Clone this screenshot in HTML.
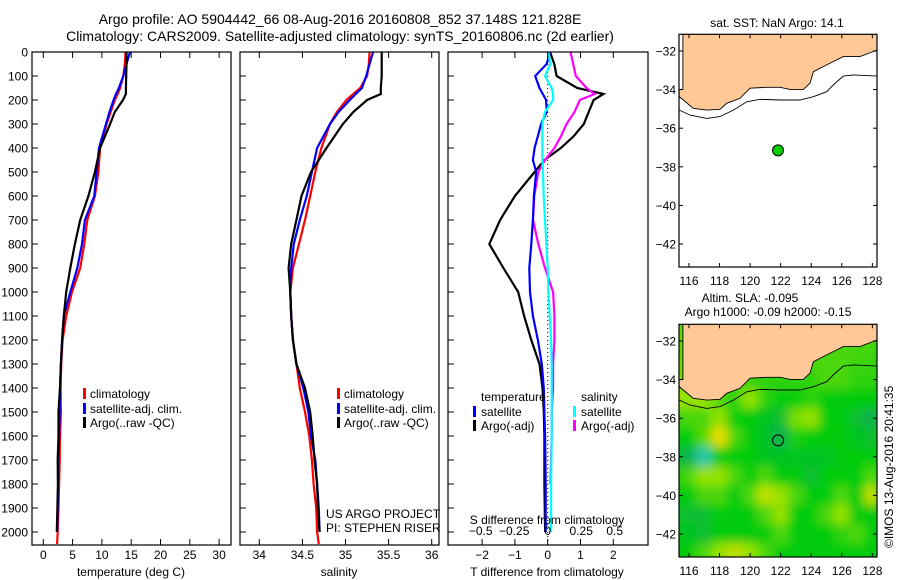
<!DOCTYPE html>
<html><head><meta charset="utf-8">
<style>
html,body{margin:0;padding:0;background:#fff;}
svg{display:block;font-family:"Liberation Sans",sans-serif;}
text{fill:#000;}
</style></head>
<body>
<svg id="fig" width="900" height="580" viewBox="0 0 900 580" xmlns="http://www.w3.org/2000/svg">
<text x="340" y="24" font-size="14" text-anchor="middle">Argo profile: AO 5904442_66 08-Aug-2016 20160808_852 37.148S 121.828E</text>
<text x="340" y="41" font-size="14" text-anchor="middle">Climatology: CARS2009. Satellite-adjusted climatology: synTS_20160806.nc (2d earlier)</text>
<g id="p1"></g>
<g id="p2"></g>
<g id="p3"></g>
<g id="m1"></g>
<g id="m2"></g>
<text x="0" y="0" font-size="12" transform="translate(893,548) rotate(-90)">©IMOS 13-Aug-2016 20:41:35</text>
</svg>
<script>
// ---- data ----
const depthsP = [0,50,100,150,175,200,250,300,400,500,600,700,800,900,1000,1100,1200,1300,1400,1500,1600,1700,1800,1900,2000,2050];
const tempClim = [14.05,13.9,13.65,13.1,12.7,12.2,11.5,10.8,9.7,9.4,8.8,7.5,7.0,6.3,4.9,3.9,3.3,3.05,2.95,3.0,2.85,2.8,2.7,2.6,2.45,2.35];
const tempSat  = [14.8,14.2,13.65,12.9,12.4,12.0,11.3,10.7,9.5,9.1,8.7,7.1,6.6,5.8,4.6,3.5,3.2,3.0,2.85,2.8,2.7,2.6,2.55,2.45,2.35,null];
const tempArgo = [14.2,14.2,14.15,14.1,14.1,13.6,12.2,11.4,9.7,8.8,7.7,6.3,5.4,4.6,3.9,3.5,3.2,3.0,2.85,2.6,2.6,2.45,2.5,2.4,2.3,null];
const salClim = [35.28,35.27,35.25,35.17,35.09,35.01,34.9,34.82,34.72,34.65,34.59,34.53,34.46,34.39,34.36,34.37,34.39,34.43,34.47,34.53,34.58,34.61,34.63,34.66,34.67,34.69];
const salSat  = [35.32,35.28,35.24,35.19,35.12,35.05,34.92,34.82,34.67,34.61,34.55,34.47,34.40,34.37,34.36,34.37,34.39,34.43,34.51,34.57,34.60,34.65,34.67,34.69,34.70,null];
const salArgo = [35.42,35.42,35.42,35.41,35.41,35.25,35.09,34.97,34.78,34.6,34.49,34.43,34.37,34.34,34.36,34.37,34.39,34.43,34.53,34.59,34.62,34.64,34.67,34.68,34.70,null];
const depthsD = [0,50,100,150,175,200,250,300,350,400,450,500,600,700,800,900,1000,1100,1200,1300,1400,1500,1600,1800,2000];
const dTsat  = [0.07,-0.03,-0.38,-0.25,-0.15,-0.05,-0.03,-0.2,-0.3,-0.4,-0.45,-0.35,-0.42,-0.45,-0.5,-0.56,-0.54,-0.45,-0.3,-0.18,-0.12,-0.1,-0.08,-0.06,-0.06];
const dTargo = [0.07,0.2,0.27,0.9,1.7,1.4,1.25,1.1,0.8,0.4,-0.1,-0.4,-1.0,-1.45,-1.78,-1.35,-0.9,-0.72,-0.5,-0.25,-0.16,-0.12,-0.1,-0.1,-0.08];
const dSsat  = [0.005,0.02,-0.02,0.03,0.04,0.04,-0.02,-0.04,-0.04,-0.04,-0.04,-0.035,-0.03,-0.02,-0.01,0,0.005,0.015,0.025,0.03,0.03,0.03,0.03,0.025,0.025];
const dSargo = [0.17,0.19,0.21,0.29,0.35,0.24,0.2,0.14,0.1,0.05,-0.02,-0.07,-0.1,-0.11,-0.07,-0.02,0.04,0.05,0.05,0.04,0.04,0.03,0.03,0.02,null];
const depthTicks = [0,100,200,300,400,500,600,700,800,900,1000,1100,1200,1300,1400,1500,1600,1700,1800,1900,2000];
const tempTicks = [0,5,10,15,20,25,30];
const salTicks = [34,34.5,35,35.5,36];
const salTickLabels = ["34","34.5","35","35.5","36"];
const dTTicks = [-2,-1,0,1,2];
const dSTicks = [-0.5,-0.25,0,0.25,0.5];
const dSTickLabels = ["\u22120.5","\u22120.25","0","0.25","0.5"];
const lonTicks = [116,118,120,122,124,126,128];
const latTicks = [-32,-34,-36,-38,-40,-42];
const argoLon = 121.828, argoLat = -37.148;
const coastLon = [115.35,115.37,115.63,116.28,117.16,118.03,118.47,119.34,120.0,121.08,121.96,122.61,123.48,123.92,124.14,124.79,125.44,126.1,127.19,128.32,128.32,115.6,115.6,115.35];
const coastLat = [-34.3,-34.37,-34.54,-34.97,-35.06,-35.02,-34.71,-34.45,-33.93,-33.88,-33.88,-33.99,-33.99,-33.67,-33.07,-32.81,-32.55,-32.29,-32.29,-31.95,-31.0,-31.0,-34.0,-34.0];
const isoLon = [115.37,116.07,117.16,118.03,118.9,119.78,120.65,121.96,123.26,124.14,125.01,125.44,126.1,126.75,128.32];
const isoLat = [-35.06,-35.32,-35.49,-35.40,-35.06,-34.63,-34.5,-34.54,-34.54,-34.37,-34.11,-33.76,-33.30,-33.24,-33.30];
const slaLons = [115,116,117,118,119,120,121,122,123,124,125,126,127,128];
const slaLats = [-31,-32,-33,-34,-35,-36,-37,-38,-39,-40,-41,-42,-43];
const slaGrid = [
[0.5,0.5,0.5,0.5,0.5,0.5,0.5,0.5,0.5,0.5,0.5,0.5,0.5,0.5],
[0.8,0.5,0.5,0.5,0.5,0.5,0.5,0.5,0.5,0.5,0.5,0.5,0.5,0.5],
[0.8,0.5,0.5,0.5,0.5,0.5,0.5,0.5,0.5,0.5,0.5,0.5,0.4,0.4],
[1,0.5,0.3,0.3,0.3,0.3,0.3,0.3,0.3,0.3,0.5,0.5,0.3,0.3],
[1,1,1,0.5,0.3,1,0.3,0,0,0.3,0,0,0,0],
[0.3,0.5,0.5,1,0,0,-0.3,-0.5,0.8,1,0,0,-0.5,-1],
[0,0,0.6,2,0.5,0,-0.3,-1,0.2,0,0,0,-0.3,-0.5],
[0,-1,-2,0,0,0,-0.3,-0.3,-0.3,-0.3,-0.3,0,0,0],
[0,0.5,1,1,0.5,0,0.5,0,0,-0.5,0,0,0,0.5],
[0,0,0.5,0.5,0,0.5,1.5,1,0.5,0,0,0.5,0,1.5],
[-0.3,-0.5,-0.5,0,0,0,0.5,1,0,0,0.5,1,0,0],
[0,-0.3,-0.5,0,0,0,0,0.5,0,0,0,0.3,0.5,0],
[0,0,0.5,1,1.5,1,0.5,0,0,0,0,0,0,0]];

// ---- helpers ----
const NS="http://www.w3.org/2000/svg";
function mk(tag,attrs,parent){const e=document.createElementNS(NS,tag);for(const k in attrs)e.setAttribute(k,attrs[k]);parent.appendChild(e);return e;}
const TOP=52, BOT=545, DPX=0.24;
const yD = d => TOP + d*DPX;

function linePath(xs,ds,fx){let s="",pen=false;for(let i=0;i<xs.length;i++){if(xs[i]===null){pen=false;continue;}s+=(pen?"L":"M")+fx(xs[i]).toFixed(1)+","+yD(ds[i]).toFixed(1);pen=true;}return s;}

function frame(g,x0,x1,labelsLeft){
  const r=mk('rect',{x:x0,y:TOP,width:x1-x0,height:BOT-TOP,fill:'none',stroke:'#000','stroke-width':1.2},g);
  
  depthTicks.forEach(d=>{
    const t=mk('line',{x1:x0,x2:x0+6,y1:yD(d),y2:yD(d),stroke:'#000'},g);
    
    if(labelsLeft){const tx=mk('text',{x:x0-4,y:yD(d)+4.5,'font-size':12,'text-anchor':'end'},g);tx.textContent=d;
      }
  });
}
function xticks(g,vals,fx,labels,ly,inside){
  vals.forEach((v,i)=>{
    const x=fx(v);
    const a=mk('line',{x1:x,x2:x,y1:TOP,y2:TOP+6,stroke:'#000'},g);
    
    const b=mk('line',{x1:x,x2:x,y1:BOT,y2:BOT-6,stroke:'#000'},g);
    
    if(labels){const t=mk('text',{x:x,y:ly,'font-size':12,'text-anchor':'middle'},g);t.textContent=labels[i];
      }
  });
}
function series(g,xs,ds,fx,color,name){
  const p=mk('path',{d:linePath(xs,ds,fx),fill:'none',stroke:color,'stroke-width':2.2,'stroke-linejoin':'miter'},g);
  
}
function txt(g,x,y,s,name,anchor,size){const t=mk('text',{x:x,y:y,'font-size':size||12,'text-anchor':anchor||'start'},g);t.textContent=s;
  return t;}
function legendMark(g,x,y,color,name){const l=mk('rect',{x:x,y:y-10,width:3,height:11,fill:color},g);
  }

// ---- panel 1 ----
const p1=document.getElementById('p1');
const fT=v=>43.3+v*5.86;
series(p1,tempClim,depthsP,fT,'#ff0000','climatology-temp-line');
series(p1,tempSat,depthsP,fT,'#0000ff','satellite-temp-line');
series(p1,tempArgo,depthsP,fT,'#000000','argo-temp-line');
frame(p1,32,231,true);
xticks(p1,tempTicks,fT,tempTicks.map(String),559);
txt(p1,131,576,'temperature (deg C)','x-axis-title','middle');
legendMark(p1,83,398,'#ff0000','legend-climatology-mark');txt(p1,90,398,'climatology','legend-climatology');
legendMark(p1,83,413,'#0000ff','legend-satellite-mark');txt(p1,90,413,'satellite-adj. clim.','legend-satellite');
legendMark(p1,83,427,'#000','legend-argo-mark');txt(p1,90,427,'Argo(..raw -QC)','legend-argo');

// ---- panel 2 ----
const p2=document.getElementById('p2');
const fS=v=>259.3+(v-34)*86.2;
series(p2,salClim,depthsP,fS,'#ff0000','climatology-sal-line');
series(p2,salSat,depthsP,fS,'#0000ff','satellite-sal-line');
series(p2,salArgo,depthsP,fS,'#000000','argo-sal-line');
frame(p2,240,439,false);
xticks(p2,salTicks,fS,salTickLabels,559);
txt(p2,339,576,'salinity','x-axis-title','middle');
legendMark(p2,337,398,'#ff0000','legend-climatology-mark');txt(p2,344,398,'climatology','legend-climatology');
legendMark(p2,337,413,'#0000ff','legend-satellite-mark');txt(p2,344,413,'satellite-adj. clim.','legend-satellite');
legendMark(p2,337,427,'#000','legend-argo-mark');txt(p2,344,427,'Argo(..raw -QC)','legend-argo');
txt(p2,326,518,'US ARGO PROJECT','project-credit');
txt(p2,326,532,'PI: STEPHEN RISER','pi-credit');

// ---- panel 3 ----
const p3=document.getElementById('p3');
const fDT=v=>547.7+v*32.8;
const fDS=v=>547.7+v*134;
const z=mk('line',{x1:fDT(0),x2:fDT(0),y1:TOP,y2:BOT,stroke:'#000','stroke-dasharray':'1,3'},p3);

series(p3,dTargo,depthsD,fDT,'#000000','argo-temp-diff-line');
series(p3,dSargo,depthsD,fDS,'#ff00ff','argo-sal-diff-line');
series(p3,dTsat,depthsD,fDT,'#0000ff','satellite-temp-diff-line');
series(p3,dSsat,depthsD,fDS,'#00ffff','satellite-sal-diff-line');
frame(p3,448,648,false);
xticks(p3,dTTicks,fDT,dTTicks.map(v=>v<0?'\u2212'+(-v):String(v)),559);
dSTicks.forEach((v,i)=>{txt(p3,fDS(v),535,dSTickLabels[i],'s-tick-label','middle');});
txt(p3,547,524,'S difference from climatology','s-axis-title','middle');
txt(p3,547,576,'T difference from climatology','t-axis-title','middle');
txt(p3,481,401,'temperature','legend-temperature-header');
legendMark(p3,473,416,'#0000ff','legend-t-satellite-mark');txt(p3,481,416,'satellite','legend-t-satellite');
legendMark(p3,473,430,'#000','legend-t-argo-mark');txt(p3,481,430,'Argo(-adj)','legend-t-argo');
txt(p3,581,401,'salinity','legend-salinity-header');
legendMark(p3,573,416,'#00ffff','legend-s-satellite-mark');txt(p3,581,416,'satellite','legend-s-satellite');
legendMark(p3,573,430,'#ff00ff','legend-s-argo-mark');txt(p3,581,430,'Argo(-adj)','legend-s-argo');

// ---- maps ----
const MX0=679,MX1=877,MH=232.7;
const fLon=l=>689+(l-116)*15.28;
function slaColor(v){
  const stops=[[-2,[40,200,170]],[-1,[16,176,80]],[0,[0,204,16]],[1,[150,226,0]],[2,[236,220,0]]];
  v=Math.max(-2,Math.min(2,v));
  for(let i=0;i<stops.length-1;i++){const a=stops[i],b=stops[i+1];if(v<=b[0]){const t=(v-a[0])/(b[0]-a[0]);
    return 'rgb('+a[1].map((c,j)=>Math.round(c+(b[1][j]-c)*t)).join(',')+')';}}
  return 'rgb(236,220,0)';
}
function drawMap(g,top,withSla,id){
  const fLat=l=>top+16.7+(-32-l)*19.3;
  const defs=mk('defs',{},g);
  const cp=mk('clipPath',{id:'clip'+id},defs);
  mk('rect',{x:MX0,y:top,width:MX1-MX0,height:MH},cp);
  const inner=mk('g',{'clip-path':'url(#clip'+id+')'},g);
  if(withSla){
    const f=mk('filter',{id:'blur'+id,x:'-10%',y:'-10%',width:'120%',height:'120%'},defs);
    mk('feGaussianBlur',{stdDeviation:5},f);
    const bg=mk('rect',{x:MX0,y:top,width:MX1-MX0,height:MH,fill:'rgb(0,204,16)'},inner);
    
    const hg=mk('g',{filter:'url(#blur'+id+')'},inner);
    slaLats.forEach((la,r)=>slaLons.forEach((lo,c)=>{
      const x0=fLon(lo-0.5),x1=fLon(lo+0.5),y0=fLat(la+0.5),y1=fLat(la-0.5);
      const cell=mk('rect',{x:x0-0.3,y:y0-0.3,width:x1-x0+0.6,height:y1-y0+0.6,fill:slaColor(slaGrid[r][c])},hg);
      
    }));
  }
  const land=mk('path',{d:coastLon.map((lo,i)=>(i?'L':'M')+fLon(lo).toFixed(1)+','+fLat(coastLat[i]).toFixed(1)).join('')+'Z',fill:'#ffc896',stroke:'#000','stroke-width':0.9},inner);
  
  const iso=mk('path',{d:isoLon.map((lo,i)=>(i?'L':'M')+fLon(lo).toFixed(1)+','+fLat(isoLat[i]).toFixed(1)).join(''),fill:'none',stroke:'#000','stroke-width':0.9},inner);
  
  const dot=mk('circle',{cx:fLon(argoLon),cy:fLat(argoLat),r:5.5,fill:withSla?'none':'#00cc00',stroke:'#000','stroke-width':1},g);
  
  const fr=mk('rect',{x:MX0,y:top,width:MX1-MX0,height:MH,fill:'none',stroke:'#000','stroke-width':1.2},g);
  
  lonTicks.forEach(lo=>{const x=fLon(lo);
    const a=mk('line',{x1:x,x2:x,y1:top,y2:top+4,stroke:'#000'},g);
    const b=mk('line',{x1:x,x2:x,y1:top+MH,y2:top+MH-4,stroke:'#000'},g);
    txt(g,x,top+MH+18,String(lo),'lon-tick-label','middle');});
  latTicks.forEach(la=>{const y=fLat(la);
    const a=mk('line',{x1:MX0,x2:MX0+4,y1:y,y2:y,stroke:'#000'},g);
    const b=mk('line',{x1:MX1,x2:MX1-4,y1:y,y2:y,stroke:'#000'},g);
    txt(g,MX0-3,y+4.5,'\u2212'+(-la),'lat-tick-label','end');});
}
const m1=document.getElementById('m1'), m2=document.getElementById('m2');
drawMap(m1,34.3,false,'a');
drawMap(m2,324.3,true,'b');
txt(m1,777,27,'sat. SST: NaN Argo: 14.1','sst-map-title','middle');
txt(m2,750,302,'Altim. SLA: -0.095','sla-map-title','middle');
txt(m2,768,316,'Argo h1000: -0.09 h2000: -0.15','sla-map-subtitle','middle');
</script>
</body></html>
